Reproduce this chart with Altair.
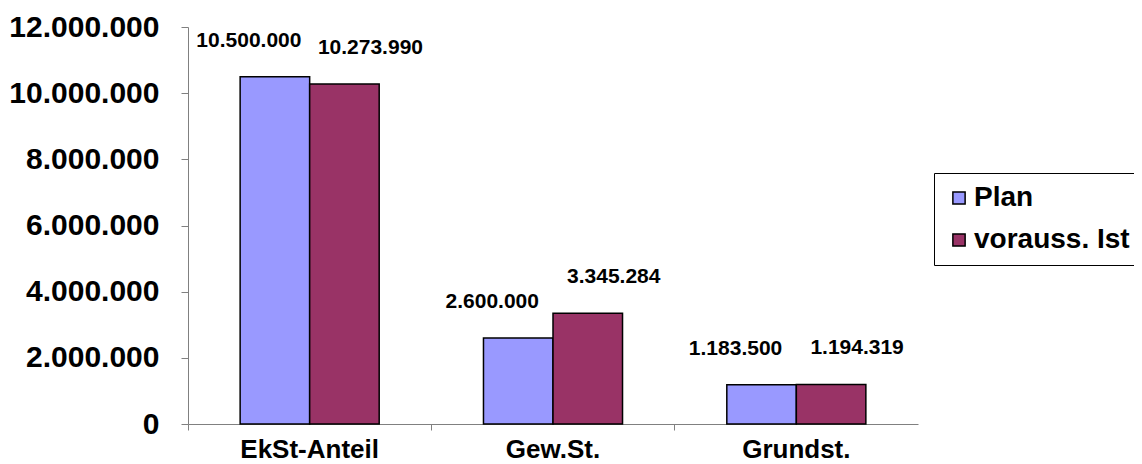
import altair as alt
import pandas as pd

categories = ["EkSt-Anteil", "Gew.St.", "Grundst."]
series = ["Plan", "vorauss. Ist"]
plan_values = [10500000, 2600000, 1183500]
ist_values = [10273990, 3345284, 1194319]
y_ticks = [0, 2000000, 4000000, 6000000, 8000000, 10000000, 12000000]
colors = ["#9999FF", "#993366"]

rows = []
for c, p, i in zip(categories, plan_values, ist_values):
    rows.append({"Kategorie": c, "Serie": series[0], "Wert": p})
    rows.append({"Kategorie": c, "Serie": series[1], "Wert": i})
df = pd.DataFrame(rows)

FONT = "Liberation Sans"

x_enc = alt.X(
    "Kategorie:N",
    sort=categories,
    title=None,
    scale=alt.Scale(paddingInner=0, paddingOuter=0),
    axis=alt.Axis(
        bandPosition=0,
        labelAngle=0,
        labelFontSize=26,
        labelFontWeight="bold",
        labelFont=FONT,
        labelColor="black",
        labelPadding=6,
        tickSize=6,
        tickColor="#808080",
        domainColor="#808080",
    ),
)
xoff_enc = alt.XOffset(
    "Serie:N", sort=series, scale=alt.Scale(paddingOuter=0.75, paddingInner=0)
)
y_enc = alt.Y(
    "Wert:Q",
    title=None,
    scale=alt.Scale(domain=[0, 12000000], nice=False),
    axis=alt.Axis(
        values=y_ticks,
        format=",d",
        grid=False,
        labelFontSize=30,
        labelFontWeight="bold",
        labelFont=FONT,
        labelColor="black",
        labelPadding=22,
        tickSize=7,
        tickColor="#808080",
        domainColor="#808080",
    ),
)

bars = alt.Chart(df).mark_bar(stroke="black", strokeWidth=1.5).encode(
    x=x_enc,
    xOffset=xoff_enc,
    y=y_enc,
    color=alt.Color(
        "Serie:N",
        sort=series,
        scale=alt.Scale(domain=series, range=colors),
        legend=alt.Legend(
            title=None,
            orient="none",
            legendX=746,
            legendY=146,
            labelFontSize=28,
            labelFontWeight="bold",
            labelFont=FONT,
            labelColor="black",
            labelLimit=400,
            labelOffset=1,
            symbolType="square",
            symbolSize=150,
            symbolStrokeColor="black",
            symbolStrokeWidth=1.5,
            rowPadding=14,
            padding=11,
            strokeColor="black",
            fillColor="white",
        ),
    ),
)

def label_layer(name, dx):
    return (
        alt.Chart(df)
        .transform_filter(alt.datum.Serie == name)
        .mark_text(
            dx=dx,
            dy=-26,
            baseline="bottom",
            align="center",
            fontSize=21,
            fontWeight="bold",
            font=FONT,
            color="black",
        )
        .encode(x=x_enc, xOffset=xoff_enc, y=y_enc, text=alt.Text("Wert:Q", format=",d"))
    )

chart = (
    alt.layer(bars, label_layer(series[0], -26), label_layer(series[1], 26))
    .properties(
        width=730,
        height=397,
        autosize=alt.AutoSizeParams(type="none"),
        padding={"left": 180, "top": 19, "right": 216, "bottom": 38},
    )
    .configure(
        locale=alt.Locale(
            number=alt.NumberLocale(
                decimal=",", thousands=".", grouping=[3], currency=["", " €"]
            )
        )
    )
    .configure_view(stroke=None)
    .configure_legend(cornerRadius=0)
)

chart.save("out.html", embed_options={"renderer": "svg", "actions": False})
